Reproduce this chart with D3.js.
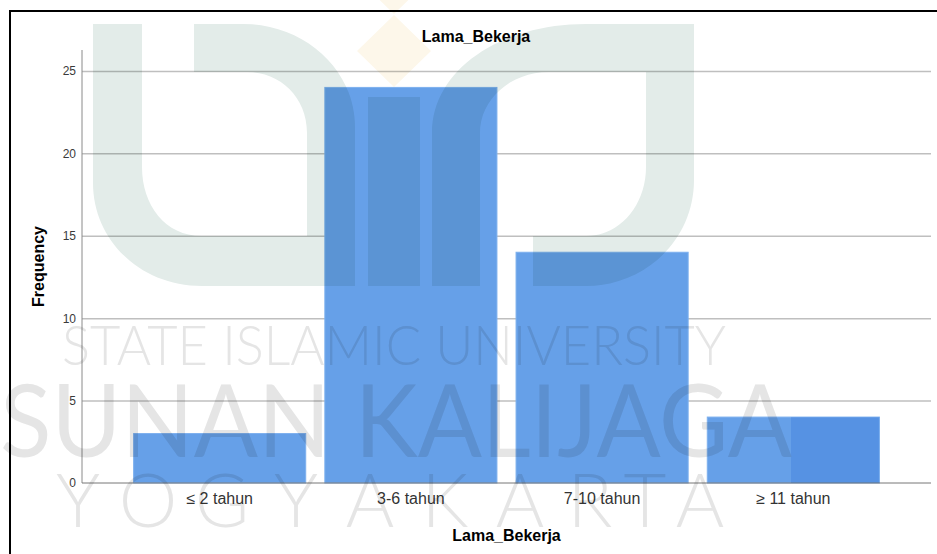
<!DOCTYPE html>
<html>
<head>
<meta charset="utf-8">
<script src="https://cdn.jsdelivr.net/npm/d3@7/dist/d3.min.js"></script>
<style>
  html, body { margin: 0; padding: 0; background: #fff; }
  svg { display: block; }
  .wm { mix-blend-mode: multiply; }
</style>
</head>
<body>
<div id="chart"></div>
<script>
// chart values
var categories = ["\u2264 2 tahun", "3-6 tahun", "7-10 tahun", "\u2265 11 tahun"];
var frequencies = [3, 24, 14, 4];
var yTicks = [0, 5, 10, 15, 20, 25];
var chartTitle = "Lama_Bekerja";
var xTitle = "Lama_Bekerja";
var yTitle = "Frequency";

var W = 937, H = 554;
var plot = { left: 82, right: 931, top: 50, bottom: 483 };
var font = "Liberation Sans, Arial, sans-serif";

var svg = d3.select("#chart").append("svg")
    .attr("width", W)
    .attr("height", H);

svg.append("rect").attr("width", W).attr("height", H).attr("fill", "#fff");

var x = d3.scaleBand()
    .domain(categories)
    .range([plot.left, plot.right])
    .paddingInner(0.1)
    .paddingOuter(0.27);

var y = d3.scaleLinear()
    .domain([0, 26.27])
    .range([plot.bottom, plot.top]);

// gridlines
var grid = svg.append("g")
    .attr("transform", "translate(" + plot.left + ",0)")
    .call(d3.axisLeft(y).tickValues(yTicks.slice(1)).tickSize(-(plot.right - plot.left)).tickFormat(""));
grid.select(".domain").remove();
grid.selectAll("line").attr("stroke", "#bfbfbf").attr("stroke-width", 1.5);

// bars
var bars = svg.append("g");
bars.selectAll("rect")
    .data(frequencies)
    .enter()
    .append("rect")
    .attr("x", function (d, i) { return x(categories[i]); })
    .attr("y", function (d) { return y(d); })
    .attr("width", x.bandwidth())
    .attr("height", function (d) { return y(0) - y(d); })
    .attr("fill", "#66a0e8")
    .attr("stroke", "#7db0ee")
    .attr("stroke-width", 1);

// clip for the darker patch that sits on the last bar in the source image
svg.append("clipPath").attr("id", "barclip")
    .selectAll("rect")
    .data(frequencies)
    .enter()
    .append("rect")
    .attr("x", function (d, i) { return x(categories[i]); })
    .attr("y", function (d) { return y(d); })
    .attr("width", x.bandwidth())
    .attr("height", function (d) { return y(0) - y(d); });

// y axis
var yAxis = svg.append("g")
    .attr("transform", "translate(" + plot.left + ",0)")
    .call(d3.axisLeft(y).tickValues(yTicks).tickSize(0).tickPadding(6));
yAxis.select(".domain").remove();
yAxis.selectAll("text")
    .attr("font-family", font)
    .attr("font-size", 12)
    .attr("fill", "#3a3a3a");

svg.append("line")
    .attr("x1", plot.left).attr("x2", plot.left)
    .attr("y1", plot.top).attr("y2", plot.bottom)
    .attr("stroke", "#8a8a8a");

// x axis
var xAxis = svg.append("g")
    .attr("transform", "translate(0," + plot.bottom + ")")
    .call(d3.axisBottom(x).tickSize(0).tickPadding(10));
xAxis.select(".domain").remove();
xAxis.selectAll("text")
    .attr("font-family", font)
    .attr("font-size", 16)
    .attr("fill", "#333");

svg.append("line")
    .attr("x1", plot.left).attr("x2", plot.right)
    .attr("y1", plot.bottom).attr("y2", plot.bottom)
    .attr("stroke", "#777");

// titles
svg.append("text")
    .attr("x", 476).attr("y", 42)
    .attr("text-anchor", "middle")
    .attr("font-family", font)
    .attr("font-weight", "bold").attr("font-size", 16)
    .text(chartTitle);

svg.append("text")
    .attr("x", (plot.left + plot.right) / 2).attr("y", 541)
    .attr("text-anchor", "middle")
    .attr("font-family", font)
    .attr("font-weight", "bold").attr("font-size", 16)
    .text(xTitle);

svg.append("text")
    .attr("transform", "translate(44," + (plot.top + plot.bottom) / 2 + ") rotate(-90)")
    .attr("text-anchor", "middle")
    .attr("font-family", font)
    .attr("font-weight", "bold").attr("font-size", 16)
    .text(yTitle);

// frame
svg.append("rect")
    .attr("x", 10).attr("y", 11)
    .attr("width", W + 20).attr("height", H + 20)
    .attr("fill", "none")
    .attr("stroke", "#000")
    .attr("stroke-width", 2);

// watermark (university logo + text), blended over the chart
var wm = svg.append("g").attr("class", "wm");

wm.append("path")
    .attr("fill", "#fdf7ea")
    .attr("d", "M394,15 L431,51 L394,87 L357,51 Z M394,-58 L431,-22 L394,14 L357,-22 Z");

wm.append("path")
    .attr("fill", "#e3ece9")
    .attr("d", "M93,24 L142,24 L142,167 C142,205 165,236 202,236 L307,236 L307,133 C307,97 280,72 247,72 L194,72 L194,24 L243,24 C305,24 355,70 355,127 L355,286 L202,286 C140,286 93,240 93,183 Z" +
        " M368,97 L420,97 L420,286 L368,286 Z" +
        " M432,286 L432,133 C432,70 500,24 586,24 L694,24 L694,180 C694,240 645,286 586,286 L533,286 L533,236 L586,236 C620,236 646,205 646,167 L646,72 L549,72 C510,72 480,100 480,133 L480,286 Z");

wm.append("rect")
    .attr("clip-path", "url(#barclip)")
    .attr("x", 791).attr("y", plot.top)
    .attr("width", 100).attr("height", plot.bottom - plot.top)
    .attr("fill", "#d6e9fa");

wm.append("text")
    .attr("x", 62).attr("y", 365)
    .attr("textLength", 664).attr("lengthAdjust", "spacingAndGlyphs")
    .attr("font-family", "Lato, Open Sans, sans-serif")
    .attr("font-weight", 300).attr("font-size", 56)
    .attr("fill", "#e5e5e5")
    .text("STATE ISLAMIC UNIVERSITY");

wm.append("text")
    .attr("x", 0).attr("y", 457)
    .attr("textLength", 792).attr("lengthAdjust", "spacingAndGlyphs")
    .attr("font-family", "Lato, Open Sans, sans-serif")
    .attr("font-weight", 400).attr("font-size", 100)
    .attr("fill", "#e5e5e5")
    .text("SUNAN KALIJAGA");

var yogya = ["Y", "O", "G", "Y", "A", "K", "A", "R", "T", "A"];
var yogyaX = [78, 148, 222, 296, 370, 445, 520, 590, 645, 700];
wm.selectAll("text.yg")
    .data(yogya)
    .enter()
    .append("text")
    .attr("class", "yg")
    .attr("x", function (d, i) { return yogyaX[i]; })
    .attr("y", 527)
    .attr("text-anchor", "middle")
    .attr("font-family", "Lato, Open Sans, sans-serif")
    .attr("font-weight", 300).attr("font-size", 74)
    .attr("fill", "#e5e5e5")
    .text(function (d) { return d; });
</script>
</body>
</html>
